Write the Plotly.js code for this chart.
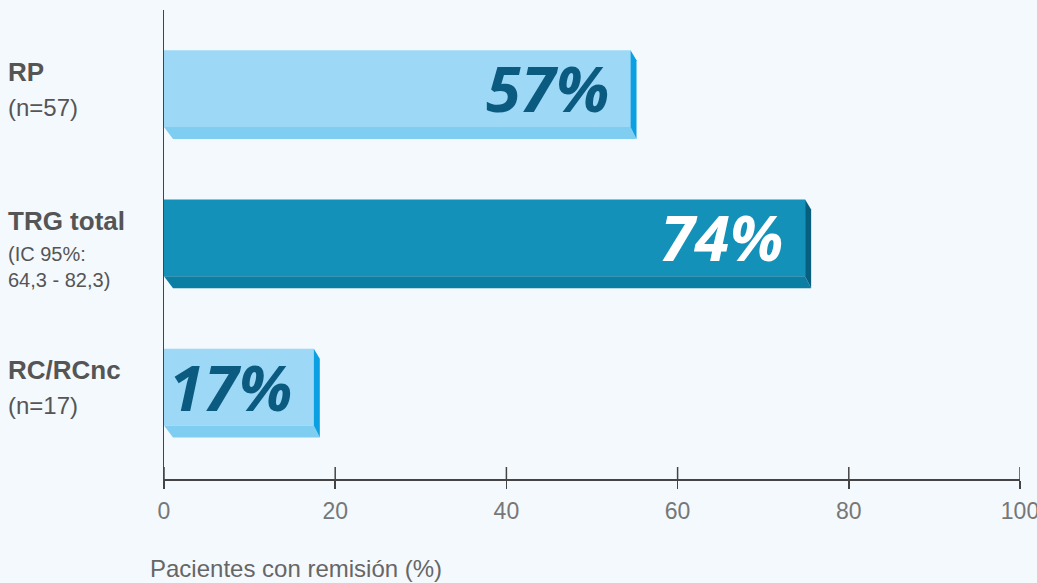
<!DOCTYPE html>
<html>
<head>
<meta charset="utf-8">
<script src="https://cdn.plot.ly/plotly-3.0.1.min.js"></script>
<style>
html,body{margin:0;padding:0;background:#f4f9fd;}
#chart{width:1037px;height:583px;}
</style>
</head>
<body>
<div id="chart"></div>
<script>
// Data
var categories = ["RP", "TRG total", "RC/RCnc"];
var subLabels = ["(n=57)", "(IC 95%:<br>64,3 - 82,3)", "(n=17)"];
var barValues = [54.5, 74.9, 17.5];          // drawn bar lengths
var valueLabels = ["57%", "74%", "17%"];      // printed labels
var xTicks = [0, 20, 40, 60, 80, 100];

// Styles
var frontColors = ["#9dd8f6", "#1391b9", "#9dd8f6"];
var bottomColors = ["#80cdf2", "#0b7ea3", "#80cdf2"];
var sideColors = ["#0aa0e2", "#075f80", "#0aa0e2"];
var labelColors = ["#0b5a80", "#ffffff", "#0b5a80"];

var n = categories.length;
var yPos = categories.map(function(_, i){ return n - 1 - i; });

var W = 1037, H = 583;
var mL = 164, mR = 17, mT = 10, mB = 104;
var yRange = [-0.616, 2.526];
var plotH = H - mT - mB;
var pxX = (W - mL - mR) / 100;
var pxY = plotH / (yRange[1] - yRange[0]);
var half = 0.257;
var sideDx = 6 / pxX, sideTopDy = 10 / pxY, depthDy = 12 / pxY, leftDx = 9 / pxX;

var traces = [];
// 3D faces
for (var i = 0; i < n; i++) {
  var v = barValues[i], c = yPos[i];
  var yTop = c + half, yBot = c - half;
  traces.push({
    type: "scatter", mode: "lines", fill: "toself", hoverinfo: "skip", showlegend: false,
    x: [0, v, v + sideDx, leftDx, 0],
    y: [yBot, yBot, yBot - depthDy, yBot - depthDy, yBot],
    line: {width: 0, color: bottomColors[i]}, fillcolor: bottomColors[i]
  });
  traces.push({
    type: "scatter", mode: "lines", fill: "toself", hoverinfo: "skip", showlegend: false,
    x: [v, v + sideDx, v + sideDx, v, v],
    y: [yTop, yTop - sideTopDy, yBot - depthDy, yBot, yTop],
    line: {width: 0, color: sideColors[i]}, fillcolor: sideColors[i]
  });
}
traces.push({
  type: "bar", orientation: "h", x: barValues, y: yPos, width: half * 2,
  marker: {color: frontColors, line: {width: 0}}, hoverinfo: "skip", showlegend: false
});

var annotations = [];
for (var i = 0; i < n; i++) {
  annotations.push({
    x: barValues[i], y: yPos[i], xref: "x", yref: "y", xanchor: "right", yanchor: "middle",
    xshift: -20, yshift: 1, showarrow: false, text: "<b><i>" + valueLabels[i] + "</i></b>",
    font: {family: "Open Sans, sans-serif", size: 63, color: labelColors[i]}
  });
  annotations.push({
    x: -0.185, y: yPos[i], xref: "paper", yref: "y", xanchor: "left", yanchor: "bottom",
    yshift: 0, showarrow: false, align: "left", text: "<b>" + categories[i] + "</b>",
    font: {family: "Liberation Sans, Arial, sans-serif", size: 26, color: "#555555"}
  });
  annotations.push({
    x: -0.185, y: yPos[i], xref: "paper", yref: "y", xanchor: "left", yanchor: "top",
    yshift: -3, showarrow: false, align: "left", text: subLabels[i],
    font: {family: "Liberation Sans, Arial, sans-serif", size: (i === 1 ? 20 : 24), color: "#555555"}
  });
}
annotations.push({
  x: -0.0187, y: (H - mB - 568) / plotH, xref: "paper", yref: "paper",
  xanchor: "left", yanchor: "middle",
  showarrow: false, text: "Pacientes con remisión (%)",
  font: {family: "Liberation Sans, Arial, sans-serif", size: 24, color: "#666666"}
});

// inside part of the crossing tick marks, at the tick values
var shapes = xTicks.map(function(t){
  return {type: "line", xref: "x", yref: "paper", x0: t, x1: t, y0: 0, y1: 12 / plotH,
          line: {color: "#444", width: 1.5}};
});

var layout = {
  width: W, height: H,
  margin: {l: mL, r: mR, t: mT, b: mB, pad: 0},
  paper_bgcolor: "#f4f9fd", plot_bgcolor: "#f4f9fd",
  showlegend: false,
  xaxis: {
    range: [0, 100], tickvals: xTicks, ticktext: xTicks.map(String),
    ticks: "outside", ticklen: 8, tickwidth: 1.5, tickcolor: "#444",
    showline: true, linecolor: "#444", linewidth: 1.5,
    showgrid: false, zeroline: false, fixedrange: true,
    ticklabeloverflow: "allow", ticklabelstandoff: 3,
    tickfont: {family: "Liberation Sans, Arial, sans-serif", size: 23, color: "#777777"}
  },
  yaxis: {
    range: yRange, showticklabels: false, ticks: "",
    showline: true, linecolor: "#444", linewidth: 1.5,
    showgrid: false, zeroline: false, fixedrange: true
  },
  shapes: shapes,
  annotations: annotations
};

Plotly.newPlot("chart", traces, layout, {displayModeBar: false, staticPlot: true});
</script>
</body>
</html>
